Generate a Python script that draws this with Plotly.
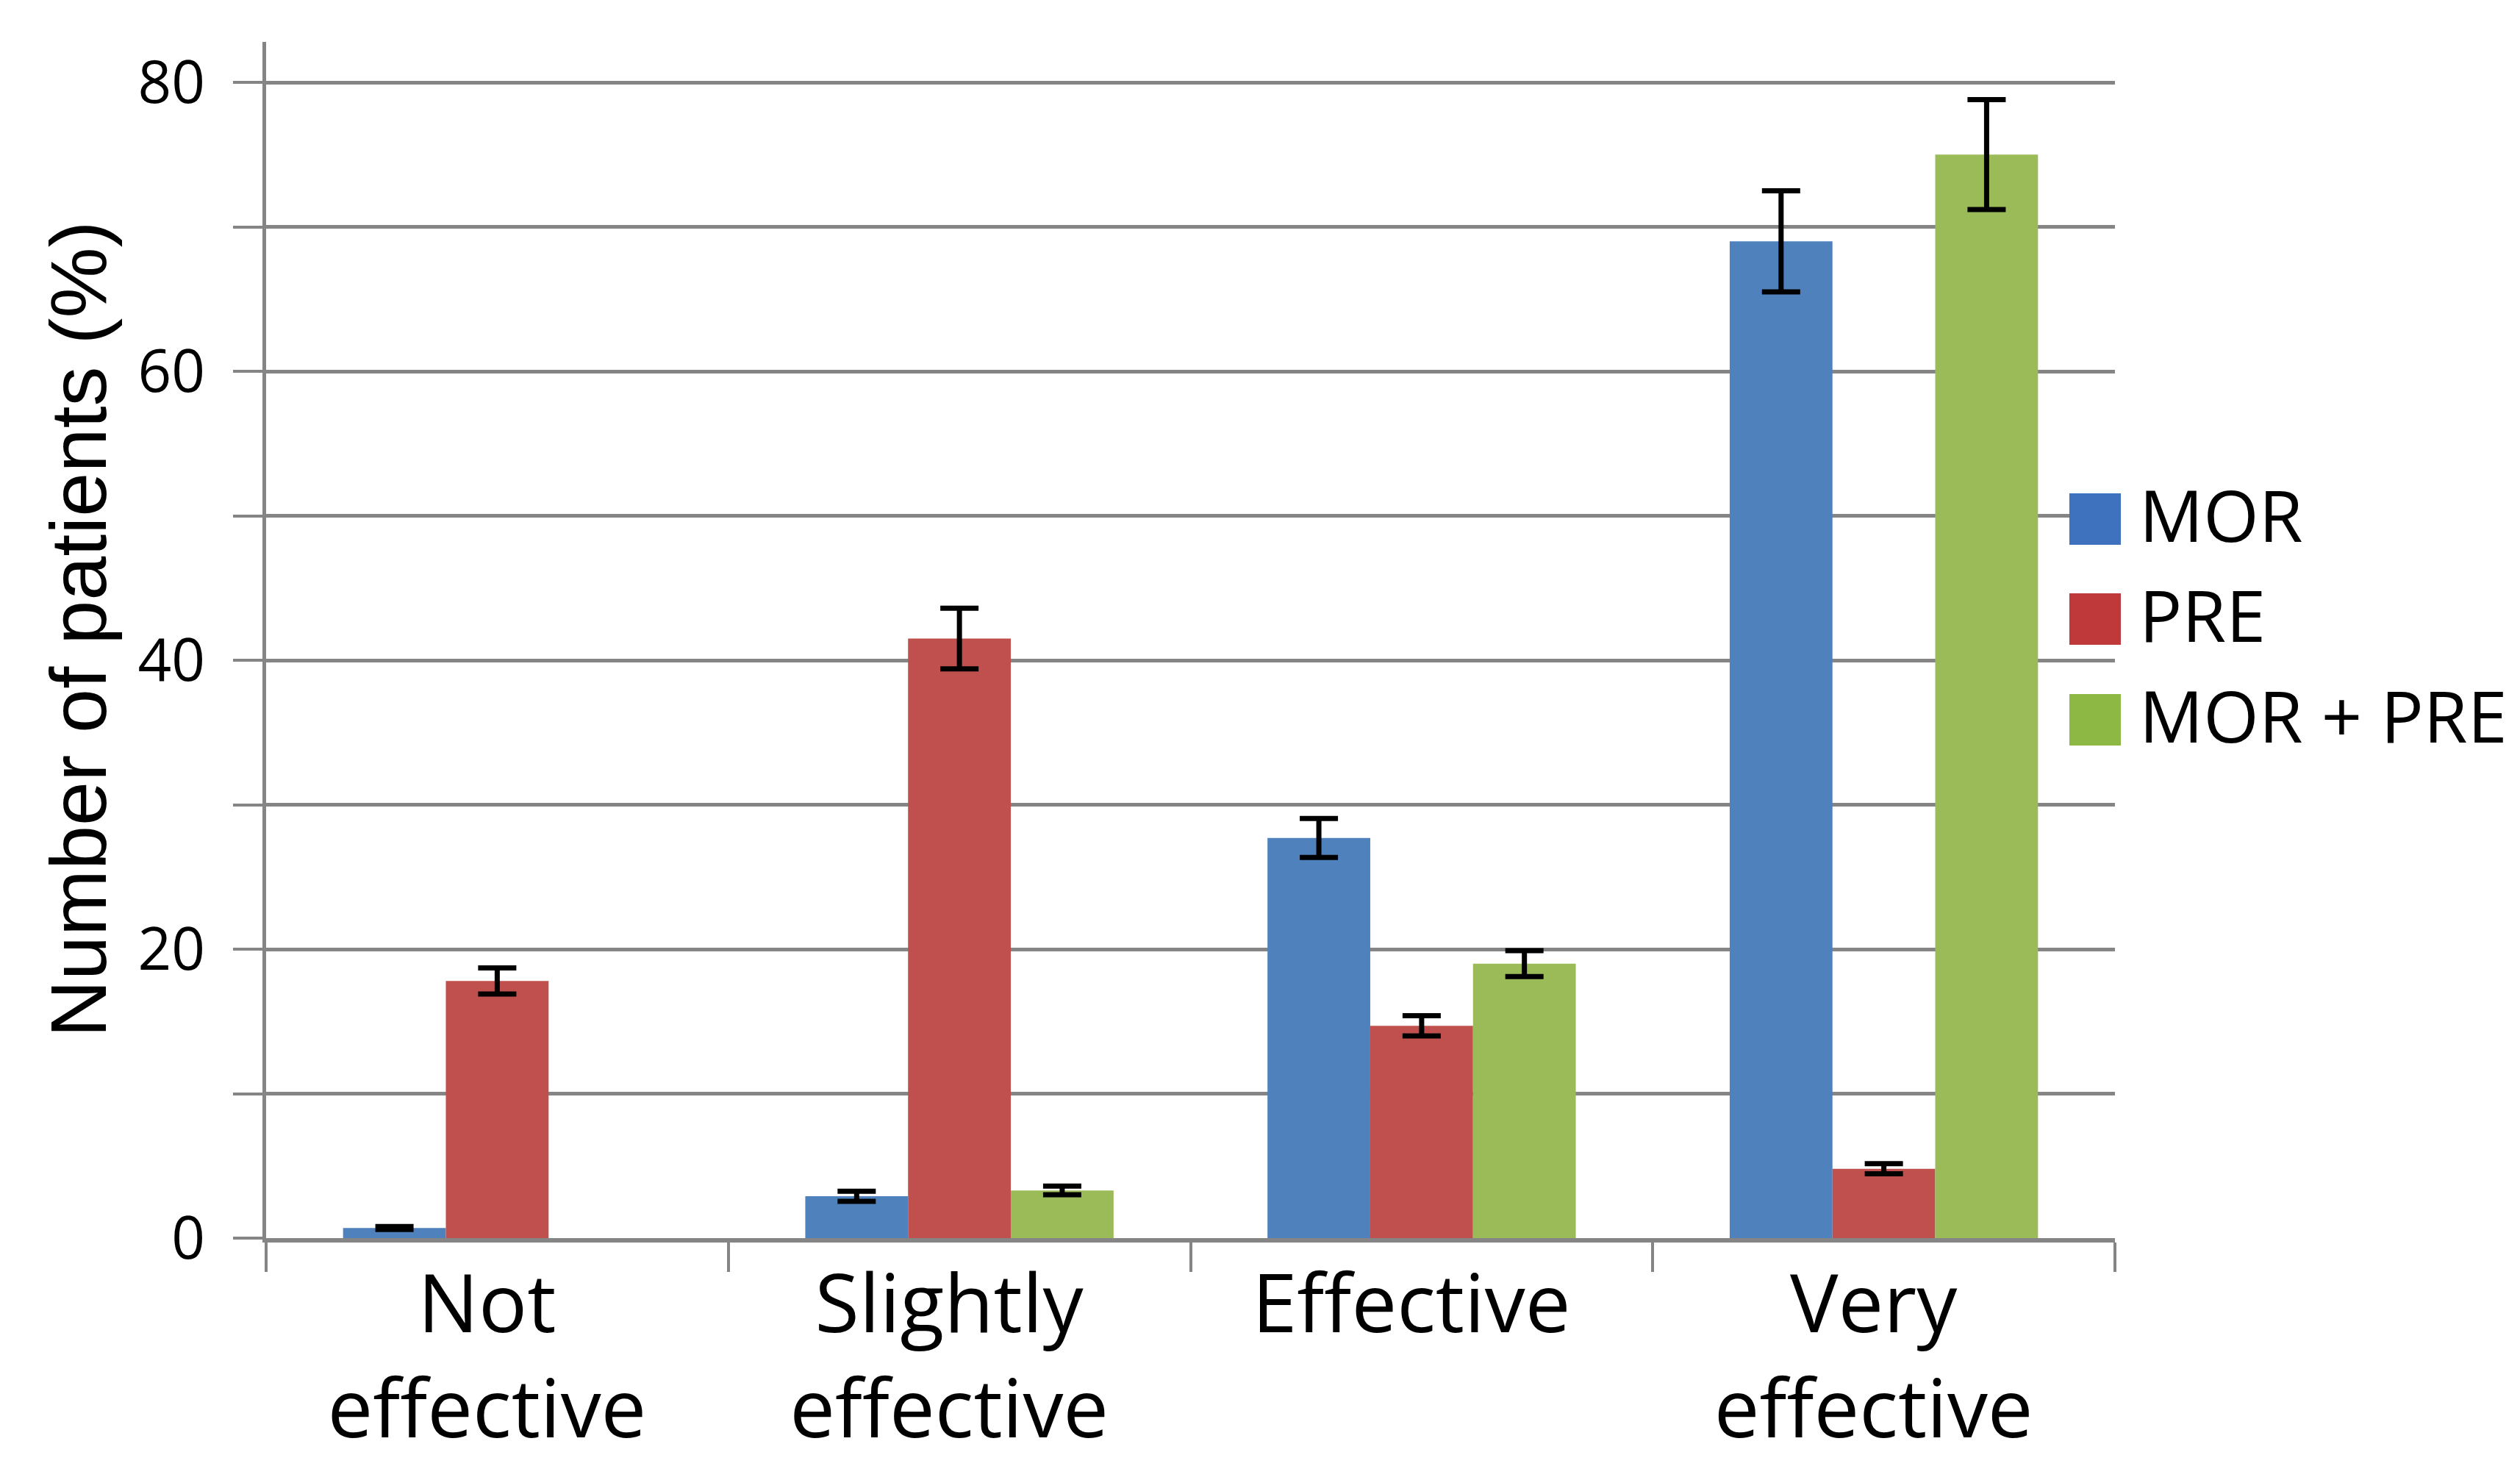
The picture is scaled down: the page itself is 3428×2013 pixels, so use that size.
import plotly.graph_objects as go

categories = ["Not<br>effective", "Slightly<br>effective", "Effective", "Very<br>effective"]
series_names = ["MOR", "PRE", "MOR + PRE"]
mor_values = [0.7, 2.9, 27.7, 69.0]
mor_errors = [0.1, 0.35, 1.35, 3.5]
pre_values = [17.8, 41.5, 14.7, 4.8]
pre_errors = [0.9, 2.1, 0.7, 0.35]
combo_values = [None, 3.3, 19.0, 75.0]
combo_errors = [None, 0.3, 0.9, 3.8]
y_tick_values = [0, 10, 20, 30, 40, 50, 60, 70, 80]
y_tick_labels = ["0", "", "20", "", "40", "", "60", "", "80"]
y_title = "Number of patients (%)"

bar_colors = ["#4F81BD", "#C0504D", "#9BBB59"]
swatch_colors = ["#3F72BE", "#BF393B", "#8DB843"]

OFF = 8  # page offset of the figure inside the browser window
W, H = 3428 - 2 * OFF, 2013 - 2 * OFF
PLOT_L, PLOT_R, PLOT_T, PLOT_B = 362, 2877, 57, 1684  # screen pixels
L = PLOT_L - OFF
T = PLOT_T - OFF
R = W - (PLOT_R - OFF)
B = H - (PLOT_B - OFF)
PW, PH = PLOT_R - PLOT_L, PLOT_B - PLOT_T


def px_x(p):
    return (p - PLOT_L) / PW


def px_y(p):
    return (PLOT_B - p) / PH


fig = go.Figure()
for name, vals, errs, col in zip(series_names,
                                 [mor_values, pre_values, combo_values],
                                 [mor_errors, pre_errors, combo_errors],
                                 bar_colors):
    fig.add_trace(go.Bar(
        x=categories, y=vals, name=name,
        marker=dict(color=col, line=dict(width=0)),
        error_y=dict(type="data", array=errs, visible=True,
                     color="black", thickness=7, width=26),
        showlegend=False,
    ))

grid_col = "#858585"
fig.update_layout(
    width=W, height=H,
    margin=dict(l=L, r=R, t=T, b=B, autoexpand=False),
    paper_bgcolor="white", plot_bgcolor="white",
    barmode="group", bargap=0.333, bargroupgap=0,
    font=dict(family="Open Sans, Noto Sans, sans-serif", color="black"),
    xaxis=dict(
        type="category", tickson="boundaries",
        ticks="outside", ticklen=40, tickwidth=4, tickcolor=grid_col,
        showline=True, linecolor=grid_col, linewidth=6,
        showgrid=False, zeroline=False,
        tickfont=dict(family="Open Sans, Noto Sans, sans-serif", size=110, color="black"),
        ticklabelstandoff=-10,
        ticklabelshift=-14,
        automargin=False,
    ),
    yaxis=dict(
        range=[0, 82.8],
        tickmode="array", tickvals=y_tick_values, ticktext=y_tick_labels,
        ticks="outside", ticklen=40, tickwidth=4, tickcolor=grid_col,
        showline=True, linecolor=grid_col, linewidth=5,
        showgrid=True, gridcolor=grid_col, gridwidth=5,
        zeroline=False,
        tickfont=dict(family="Open Sans, Noto Sans, sans-serif", size=80, color="black"),
        ticklabelstandoff=22,
        automargin=False,
    ),
)

# y-axis title
fig.add_annotation(
    text=y_title, xref="paper", yref="paper",
    x=px_x(106), y=px_y(856), xanchor="center", yanchor="middle",
    textangle=-90, showarrow=False,
    font=dict(family="Liberation Sans, Arial, sans-serif", size=108, color="black"),
)

# legend (manual, large swatches)
legend_centers = [706, 842, 979]
for name, col, cy in zip(series_names, swatch_colors, legend_centers):
    fig.add_shape(
        type="rect", xref="paper", yref="paper", layer="above",
        x0=px_x(2815), x1=px_x(2885), y0=px_y(cy + 35), y1=px_y(cy - 35),
        fillcolor=col, line=dict(width=0),
    )
    fig.add_annotation(
        text=name, xref="paper", yref="paper",
        x=px_x(2908), y=px_y(cy - 7), xanchor="left", yanchor="middle",
        showarrow=False,
        font=dict(family="Open Sans, Noto Sans, sans-serif", size=97, color="black"),
    )

fig.write_html("out.html")
